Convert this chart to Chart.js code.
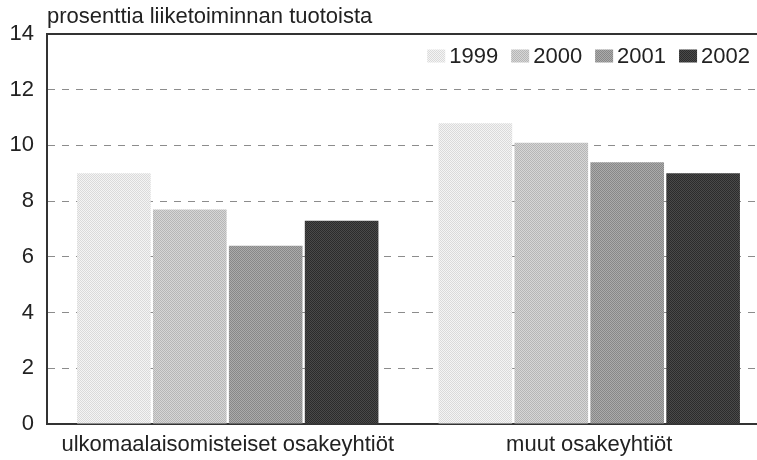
<!DOCTYPE html>
<html>
<head>
<meta charset="utf-8">
<script src="https://cdn.jsdelivr.net/npm/chart.js@4/dist/chart.umd.min.js"></script>
<style>
html, body { margin: 0; padding: 0; overflow: hidden; background: #fff; }
#wrap { width: 770px; height: 460px; }
</style>
</head>
<body>
<div id="wrap"><canvas id="chart"></canvas></div>
<script>
// Data
var categories = ["ulkomaalaisomisteiset osakeyhtiöt", "muut osakeyhtiöt"];
var years = ["1999", "2000", "2001", "2002"];
var values1999 = [9.0, 10.8];
var values2000 = [7.7, 10.1];
var values2001 = [6.4, 9.4];
var values2002 = [7.3, 9.0];
var yTitle = "prosenttia liiketoiminnan tuotoista";

var fontFamily = "'Liberation Sans', Arial, sans-serif";

// stippled fills, two shades in a checker
function makePattern(c1, c2) {
	var p = document.createElement("canvas");
	p.width = 2;
	p.height = 2;
	var pc = p.getContext("2d");
	pc.fillStyle = c1;
	pc.fillRect(0, 0, 2, 2);
	pc.fillStyle = c2;
	pc.fillRect(0, 0, 1, 1);
	pc.fillRect(1, 1, 1, 1);
	return pc.createPattern(p, "repeat");
}

var fills = [
	makePattern("#f4f4f4", "#dadada"),
	makePattern("#d6d6d6", "#b6b6b6"),
	makePattern("#ababab", "#888888"),
	makePattern("#4a4a4a", "#2c2c2c")
];

var seriesValues = [values1999, values2000, values2001, values2002];
var datasets = [];
for (var i = 0; i < years.length; i++) {
	datasets.push({
		label: years[i],
		data: seriesValues[i],
		backgroundColor: fills[i],
		borderWidth: 0,
		barPercentage: 0.97,
		categoryPercentage: 0.84
	});
}

// title above the plot, left aligned with the axis
var titlePlugin = {
	id: "axisTitle",
	afterDraw: function(chart) {
		var ctx = chart.ctx;
		ctx.save();
		ctx.font = "22px " + fontFamily;
		ctx.fillStyle = "#222";
		ctx.textBaseline = "alphabetic";
		ctx.textAlign = "left";
		ctx.fillText(yTitle, chart.chartArea.left, 23);
		ctx.restore();
	}
};

// top frame line and legend inside the plot, top right
var framePlugin = {
	id: "frame",
	afterDraw: function(chart) {
		var ctx = chart.ctx;
		var a = chart.chartArea;
		ctx.save();
		ctx.strokeStyle = "#333";
		ctx.lineWidth = 2;
		ctx.beginPath();
		ctx.moveTo(a.left, a.top);
		ctx.lineTo(a.right, a.top);
		ctx.stroke();

		ctx.font = "22px " + fontFamily;
		ctx.textBaseline = "middle";
		ctx.textAlign = "left";
		var boxW = 18, boxH = 13, gap = 4, itemGap = 13;
		var ds = chart.data.datasets;
		var total = 0;
		for (var i = 0; i < ds.length; i++) {
			total += boxW + gap + ctx.measureText(ds[i].label).width;
			if (i > 0) total += itemGap;
		}
		var x = 750 - total;
		var y = 56;
		for (var i = 0; i < ds.length; i++) {
			ctx.fillStyle = ds[i].backgroundColor;
			ctx.fillRect(x, y - boxH / 2, boxW, boxH);
			x += boxW + gap;
			ctx.fillStyle = "#222";
			ctx.fillText(ds[i].label, x, y + 1);
			x += ctx.measureText(ds[i].label).width + itemGap;
		}
		ctx.restore();
	}
};

var ctx = document.getElementById("chart").getContext("2d");
var chart = new Chart(ctx, {
	type: "bar",
	data: { labels: categories, datasets: datasets },
	options: {
		responsive: true,
		maintainAspectRatio: false,
		animation: false,
		layout: { padding: { top: 34, left: 0, right: 0, bottom: 0 } },
		plugins: {
			legend: { display: false },
			tooltip: { enabled: false }
		},
		scales: {
			x: {
				afterFit: function(scale) { scale.height = 36; },
				grid: { display: false, drawTicks: false },
				border: { color: "#333", width: 2 },
				ticks: {
					color: "#222",
					padding: 8,
					font: { family: fontFamily, size: 22 }
				}
			},
			y: {
				min: 0,
				max: 14,
				afterFit: function(scale) { scale.width = 47; },
				ticks: {
					stepSize: 2,
					color: "#222",
					padding: 13,
					font: { family: fontFamily, size: 22 }
				},
				border: { color: "#333", width: 2, dash: [7, 7] },
				grid: {
					drawTicks: false,
					color: function(c) {
						if (c.tick.value === 0 || c.tick.value === 14) return "rgba(0,0,0,0)";
						return "#8c8c8c";
					},
					lineWidth: 1
				}
			}
		}
	},
	plugins: [titlePlugin, framePlugin]
});
</script>
</body>
</html>
